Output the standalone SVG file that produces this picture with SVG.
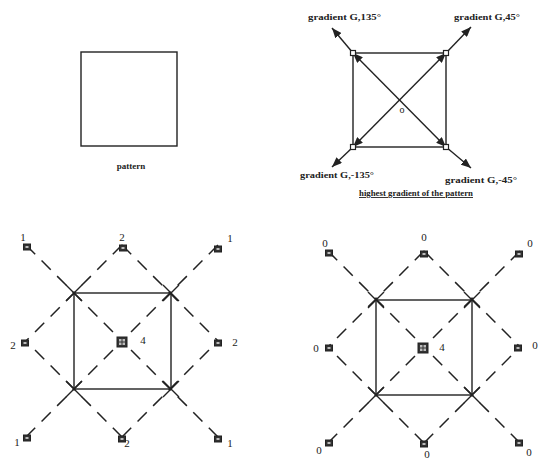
<svg xmlns="http://www.w3.org/2000/svg" width="538" height="459" viewBox="0 0 538 459">
<style>
.sq{fill:none;stroke:#222;stroke-width:1.4}
.ln{stroke:#222;stroke-width:1.4;fill:none}
.ds{stroke:#222;stroke-width:1.5;fill:none;stroke-dasharray:13 9}
.x{stroke:#222;stroke-width:1.4}
.t{font-family:"Liberation Serif",serif;fill:#222}
.lb{font-size:9px;font-weight:bold}
.num{font-size:11px;text-anchor:middle}
.cs{fill:#fff;stroke:#222;stroke-width:1.2}
.ps{fill:#333;stroke:#222;stroke-width:1}
.pi{fill:#bbb}
</style>
<defs>
<marker id="ah" viewBox="0 0 10 8" refX="10" refY="4" markerWidth="10" markerHeight="8" markerUnits="userSpaceOnUse" orient="auto-start-reverse">
<path d="M0,0 L10,4 L0,8 Z" fill="#222"/>
</marker>
<g id="pt">
<rect x="-3.5" y="-3" width="7" height="6" class="ps"/>
<rect x="-1.5" y="-1" width="3" height="2" class="pi"/>
</g>
<g id="pc">
<rect x="-5" y="-5" width="10" height="10" class="ps"/>
<rect x="-3" y="-3" width="2.5" height="2.5" class="pi"/>
<rect x="0.5" y="-3" width="2.5" height="2.5" class="pi"/>
<rect x="-3" y="0.5" width="2.5" height="2.5" class="pi"/>
<rect x="0.5" y="0.5" width="2.5" height="2.5" class="pi"/>
</g>
</defs>

<g id="pattern">
<rect x="81" y="52" width="96" height="94" class="sq"/>
<text x="131" y="169" class="t lb" text-anchor="middle">pattern</text>
</g>

<g id="gradient">
<rect x="353" y="53" width="93" height="94" class="sq"/>
<g id="connectors-gradient">
<line x1="353" y1="53" x2="446" y2="147" class="ln" marker-start="url(#ah)" marker-end="url(#ah)"/>
<line x1="446" y1="53" x2="353" y2="147" class="ln" marker-start="url(#ah)" marker-end="url(#ah)"/>
<line x1="353" y1="53" x2="332" y2="28" class="ln" marker-end="url(#ah)"/>
<line x1="446" y1="53" x2="471" y2="27" class="ln" marker-end="url(#ah)"/>
<line x1="353" y1="147" x2="332" y2="167" class="ln" marker-end="url(#ah)"/>
<line x1="446" y1="147" x2="471" y2="168" class="ln" marker-end="url(#ah)"/>
</g>
<rect x="350.5" y="50.5" width="5" height="5" class="cs"/>
<rect x="443.5" y="50.5" width="5" height="5" class="cs"/>
<rect x="350.5" y="144.5" width="5" height="5" class="cs"/>
<rect x="443.5" y="144.5" width="5" height="5" class="cs"/>
<text x="402" y="113" class="t" font-size="10" text-anchor="middle">o</text>
<text x="308" y="20" class="t lb" textLength="73" lengthAdjust="spacingAndGlyphs">gradient G,135°</text>
<text x="454" y="20" class="t lb" textLength="66" lengthAdjust="spacingAndGlyphs">gradient G,45°</text>
<text x="300" y="178" class="t lb" textLength="74" lengthAdjust="spacingAndGlyphs">gradient G,-135°</text>
<text x="445" y="183" class="t lb" textLength="72" lengthAdjust="spacingAndGlyphs">gradient G,-45°</text>
<text x="359" y="196" class="t lb" textLength="114" lengthAdjust="spacingAndGlyphs" text-decoration="underline">highest gradient of the pattern</text>
</g>

<g id="weights-left">
<g id="connectors-left">
<line x1="26" y1="245" x2="122" y2="341" class="ds"/>
<line x1="218" y1="437" x2="122" y2="341" class="ds"/>
<line x1="218" y1="245" x2="122" y2="341" class="ds"/>
<line x1="26" y1="437" x2="122" y2="341" class="ds"/>
<line x1="122" y1="245" x2="218" y2="341" class="ds"/>
<line x1="122" y1="245" x2="26" y2="341" class="ds"/>
<line x1="122" y1="437" x2="218" y2="341" class="ds"/>
<line x1="122" y1="437" x2="26" y2="341" class="ds"/>
</g>
<rect x="74" y="293" width="97" height="96" class="sq"/>
<path class="x" d="M66,285 L82,301 M82,285 L66,301 M163,285 L179,301 M179,285 L163,301 M66,381 L82,397 M82,381 L66,397 M163,381 L179,397 M179,381 L163,397"/>
<use href="#pt" x="27" y="247"/>
<use href="#pt" x="123" y="248"/>
<use href="#pt" x="218" y="249"/>
<use href="#pt" x="25" y="343"/>
<use href="#pc" x="122" y="342"/>
<use href="#pt" x="218" y="343"/>
<use href="#pt" x="27" y="438"/>
<use href="#pt" x="122" y="439"/>
<use href="#pt" x="218" y="439"/>
<text x="23" y="241" class="t num">1</text>
<text x="122" y="241" class="t num">2</text>
<text x="230" y="242" class="t num">1</text>
<text x="13" y="349" class="t num">2</text>
<text x="143" y="344" class="t num">4</text>
<text x="235" y="346" class="t num">2</text>
<text x="17" y="446" class="t num">1</text>
<text x="127" y="447" class="t num">2</text>
<text x="230" y="447" class="t num">1</text>
</g>

<g id="weights-right">
<g id="connectors-right">
<line x1="328" y1="251" x2="424" y2="347" class="ds"/>
<line x1="520" y1="443" x2="424" y2="347" class="ds"/>
<line x1="520" y1="251" x2="424" y2="347" class="ds"/>
<line x1="328" y1="443" x2="424" y2="347" class="ds"/>
<line x1="424" y1="251" x2="520" y2="347" class="ds"/>
<line x1="424" y1="251" x2="328" y2="347" class="ds"/>
<line x1="424" y1="443" x2="520" y2="347" class="ds"/>
<line x1="424" y1="443" x2="328" y2="347" class="ds"/>
</g>
<rect x="376" y="300" width="96" height="95" class="sq"/>
<path class="x" d="M368,292 L384,308 M384,292 L368,308 M464,292 L480,308 M480,292 L464,308 M368,387 L384,403 M384,387 L368,403 M464,387 L480,403 M480,387 L464,403"/>
<use href="#pt" x="329" y="253"/>
<use href="#pt" x="424" y="254"/>
<use href="#pt" x="519" y="254"/>
<use href="#pt" x="329" y="348"/>
<use href="#pc" x="423" y="348"/>
<use href="#pt" x="518" y="348"/>
<use href="#pt" x="329" y="443"/>
<use href="#pt" x="424" y="444"/>
<use href="#pt" x="519" y="443"/>
<text x="325" y="247" class="t num">0</text>
<text x="424" y="241" class="t num">0</text>
<text x="530" y="247" class="t num">0</text>
<text x="316" y="352" class="t num">0</text>
<text x="442" y="351" class="t num">4</text>
<text x="535" y="349" class="t num">0</text>
<text x="319" y="454" class="t num">0</text>
<text x="427" y="458" class="t num">0</text>
<text x="529" y="456" class="t num">0</text>
</g>
</svg>
